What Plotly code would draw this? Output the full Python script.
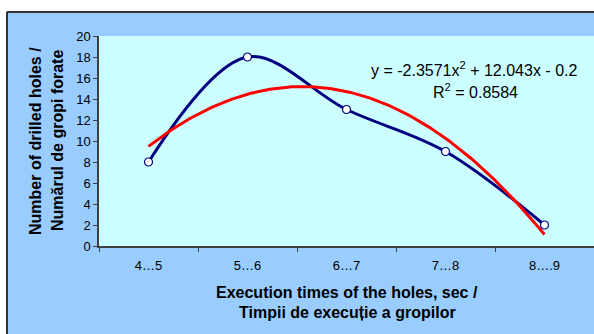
import numpy as np
import plotly.graph_objects as go

categories = ["4…5", "5…6", "6…7", "7…8", "8….9"]
drilled_holes = [8, 18, 13, 9, 2]
trend_coef = [-2.3571, 12.043, -0.2]   # y = a x^2 + b x + c (x = 1..5)
y_ticks = list(range(0, 21, 2))

W, H = 594, 334
L, R, T, B = 99, 0, 36, 88
PW, PH = W - L - R, H - T - B

def px(x):
    return (x - L) / PW

def py(y):
    return (H - B - y) / PH

xi = np.arange(len(categories))
xt = np.linspace(1, len(categories), 200)
yt = np.polyval(trend_coef, xt)

fig = go.Figure()
fig.add_trace(go.Scatter(x=xi, y=drilled_holes, mode="lines",
                         line=dict(color="#000080", width=3, shape="spline", smoothing=1),
                         hoverinfo="skip", showlegend=False))
fig.add_trace(go.Scatter(x=xt - 1, y=yt, mode="lines",
                         line=dict(color="#FF0000", width=3),
                         hoverinfo="skip", showlegend=False))
fig.add_trace(go.Scatter(x=xi, y=drilled_holes, mode="markers",
                         marker=dict(size=8, color="white", line=dict(color="#000080", width=1.2)),
                         showlegend=False))

font = "Arial, Liberation Sans, sans-serif"
fig.update_layout(
    width=W, height=H,
    margin=dict(l=L, r=R, t=T, b=B),
    paper_bgcolor="#99CCFF", plot_bgcolor="#CCFFFF",
    font=dict(family=font, size=13, color="black"),
    xaxis=dict(range=[-0.5, 4.5], tickvals=list(xi), ticktext=categories,
               ticks="", showgrid=False, zeroline=False,
               showline=True, linecolor="#404040", linewidth=1.5,
               ticklabelstandoff=7, automargin=False,
               minor=dict(tickmode="linear", tick0=-0.5, dtick=1, ticks="outside",
                          ticklen=4, tickcolor="#404040", showgrid=False),
               tickfont=dict(size=13)),
    yaxis=dict(range=[0, 20], tickvals=y_ticks, ticks="outside", ticklen=4,
               tickcolor="#404040", showgrid=False, zeroline=False,
               showline=True, linecolor="#404040", linewidth=1.5,
               automargin=False, tickfont=dict(size=13)),
)

shapes = [
    dict(type="rect", xref="paper", yref="paper", x0=px(-5), x1=px(W + 5), y0=py(-5), y1=py(11),
         fillcolor="white", line=dict(width=0)),
    dict(type="rect", xref="paper", yref="paper", x0=px(-5), x1=px(6), y0=py(-5), y1=py(H + 5),
         fillcolor="white", line=dict(width=0)),
    dict(type="line", xref="paper", yref="paper", x0=px(7), x1=px(W + 5), y0=py(12), y1=py(12),
         line=dict(color="#333333", width=2)),
    dict(type="line", xref="paper", yref="paper", x0=px(7), x1=px(7), y0=py(12), y1=py(H + 5),
         line=dict(color="#333333", width=2)),
]
fig.update_layout(shapes=shapes)

tfont = dict(size=16)
ann = [
    dict(text="<b>Number of drilled holes /</b>", x=px(35), y=py(141), textangle=-90, font=tfont),
    dict(text="<b>Numărul de gropi forate</b>", x=px(57), y=py(141), textangle=-90, font=tfont),
    dict(text="<b>Execution times of the holes, sec /</b>", x=px(347), y=py(292), font=tfont),
    dict(text="<b>Timpii de execuție a gropilor</b>", x=px(347), y=py(312), font=tfont),
    dict(text="y = -2.3571x<sup>2</sup> + 12.043x - 0.2", x=px(474), y=py(69), font=dict(size=16)),
    dict(text="R<sup>2</sup> = 0.8584", x=px(475), y=py(91), font=dict(size=16)),
]
for a in ann:
    a.update(xref="paper", yref="paper", showarrow=False, xanchor="center", yanchor="middle")
fig.update_layout(annotations=ann)

fig.write_html("out.html", config={"displayModeBar": False},
               post_script="document.body.style.margin='0';document.body.style.overflow='hidden';")
